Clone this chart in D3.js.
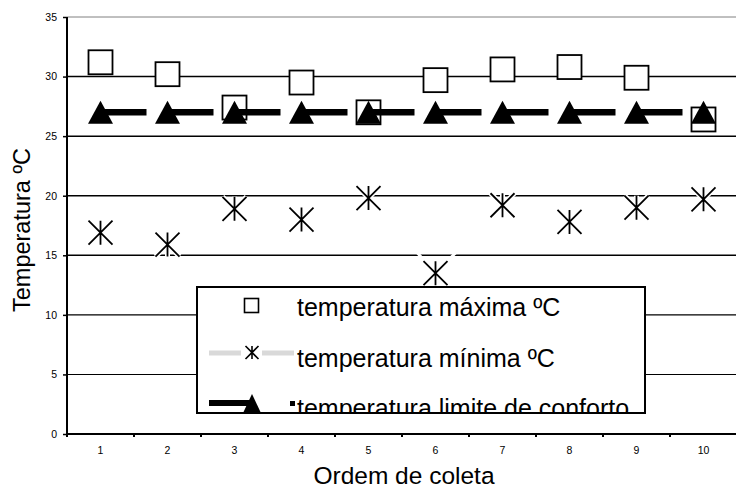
<!DOCTYPE html>
<html>
<head>
<meta charset="utf-8">
<script src="https://cdn.jsdelivr.net/npm/d3@7"></script>
<style>
  body { margin: 0; background: #fff; }
  svg { font-family: "Liberation Sans", Arial, sans-serif; }
</style>
</head>
<body>
<svg width="736" height="496"></svg>
<script>
// data
var coletas = [1, 2, 3, 4, 5, 6, 7, 8, 9, 10];
var tempMax = [31.2, 30.2, 27.4, 29.5, 27.0, 29.7, 30.6, 30.8, 29.9, 26.4];
var tempMin = [16.9, 15.9, 18.9, 18.0, 19.8, 13.5, 19.2, 17.8, 19.0, 19.7];
var tempConforto = [27, 27, 27, 27, 27, 27, 27, 27, 27, 27];
var yTicks = [0, 5, 10, 15, 20, 25, 30, 35];
var legendLabels = ["temperatura máxima ºC", "temperatura mínima ºC", "temperatura limite de conforto"];

var svg = d3.select("svg");

var x = d3.scaleBand().domain(coletas).range([67, 737]);
var y = d3.scaleLinear().domain([0, 35]).range([434, 17]);
function cx(d) { return x(d) + x.bandwidth() / 2; }

// gridlines
svg.append("g").selectAll("line")
    .data(yTicks.filter(function(d) { return d > 0; }))
    .enter().append("line")
    .attr("x1", 67).attr("x2", 736)
    .attr("y1", function(d) { return y(d); })
    .attr("y2", function(d) { return y(d); })
    .attr("stroke", function(d) { return d == 35 ? "#808080" : "#000"; })
    .attr("stroke-width", function(d) { return d == 35 ? 1 : (d <= 10 ? 1.1 : 1.5); });

// y axis
var yAxis = svg.append("g")
    .attr("transform", "translate(67,0)")
    .call(d3.axisLeft(y).tickValues(yTicks).tickSize(4).tickPadding(6));
yAxis.select(".domain").attr("stroke-width", 2).attr("d", "M0,17V434");
yAxis.selectAll(".tick line").attr("stroke-width", 1.5);
yAxis.selectAll("text").attr("font-size", 10.5).attr("fill", "#000")
    .attr("font-family", "Liberation Sans, Arial, sans-serif");

// x axis
var xAxis = svg.append("g")
    .attr("transform", "translate(0,434)")
    .call(d3.axisBottom(x).tickSize(0).tickPadding(13));
xAxis.select(".domain").attr("stroke-width", 2.2).attr("d", "M66,0H736");
xAxis.selectAll("text").attr("font-size", 10.5).attr("fill", "#000")
    .attr("font-family", "Liberation Sans, Arial, sans-serif");
xAxis.append("g").selectAll("line")
    .data(coletas)
    .enter().append("line")
    .attr("x1", function(d) { return x(d); })
    .attr("x2", function(d) { return x(d); })
    .attr("y1", 0).attr("y2", 3)
    .attr("stroke", "#000").attr("stroke-width", 2);

// axis titles
svg.append("text")
    .attr("transform", "translate(30,230) rotate(-90)")
    .attr("text-anchor", "middle")
    .attr("font-size", 23.5)
    .text("Temperatura ºC");
svg.append("text")
    .attr("x", 404).attr("y", 484)
    .attr("text-anchor", "middle")
    .attr("font-size", 24.5)
    .text("Ordem de coleta");

// white line of the minimum series (it cuts the gridlines it crosses)
var minLine = d3.line()
    .x(function(d, i) { return cx(coletas[i]); })
    .y(function(d) { return y(d); });
svg.append("path")
    .attr("d", minLine(tempMin))
    .attr("fill", "none")
    .attr("stroke", "#fff")
    .attr("stroke-width", 3);

// maximum: open squares
svg.append("g").selectAll("rect")
    .data(tempMax)
    .enter().append("rect")
    .attr("x", function(d, i) { return cx(coletas[i]) - 12; })
    .attr("y", function(d) { return y(d) - 12; })
    .attr("width", 24).attr("height", 24)
    .attr("fill", "#fff")
    .attr("stroke", "#000")
    .attr("stroke-width", 1.8);

// minimum: asterisks
function asterisk(r) {
    return "M0," + (-r) + "V" + r +
        "M" + (-r) + "," + (-r) + "L" + r + "," + r +
        "M" + (-r) + "," + r + "L" + r + "," + (-r);
}
var ast = svg.append("g").selectAll("g")
    .data(tempMin)
    .enter().append("g")
    .attr("transform", function(d, i) { return "translate(" + cx(coletas[i]) + "," + y(d) + ")"; });
ast.append("path").attr("d", asterisk(12)).attr("stroke", "#fff").attr("stroke-width", 5).attr("fill", "none");
ast.append("path").attr("d", asterisk(12)).attr("stroke", "#000").attr("stroke-width", 1.8).attr("fill", "none");

// limite de conforto: thick line pieces + triangles
var tri = "M0,-11.5L12.5,11.5L-12.5,11.5Z";
svg.append("g").selectAll("line")
    .data(tempConforto.slice(0, -1))
    .enter().append("line")
    .attr("x1", function(d, i) { return cx(coletas[i]); })
    .attr("x2", function(d, i) { return cx(coletas[i + 1]) - 21; })
    .attr("y1", function(d) { return y(d); })
    .attr("y2", function(d) { return y(d); })
    .attr("stroke", "#000")
    .attr("stroke-width", 6.5);
svg.append("g").selectAll("path")
    .data(tempConforto)
    .enter().append("path")
    .attr("d", tri)
    .attr("transform", function(d, i) { return "translate(" + cx(coletas[i]) + "," + y(d) + ")"; })
    .attr("fill", "#000");

// legend
svg.append("clipPath").attr("id", "legclip")
    .append("rect").attr("x", 197).attr("y", 287).attr("width", 448).attr("height", 125);
var leg = svg.append("g");
leg.append("rect")
    .attr("x", 197).attr("y", 287).attr("width", 448).attr("height", 126)
    .attr("fill", "#fff");
var legIn = leg.append("g").attr("clip-path", "url(#legclip)");

legIn.append("rect")
    .attr("x", 244.5).attr("y", 298.5).attr("width", 14).attr("height", 14)
    .attr("fill", "#fff").attr("stroke", "#000").attr("stroke-width", 1.6);

legIn.append("line").attr("x1", 209).attr("x2", 241).attr("y1", 353).attr("y2", 353)
    .attr("stroke", "#d9d9d9").attr("stroke-width", 5);
legIn.append("line").attr("x1", 262).attr("x2", 294).attr("y1", 353).attr("y2", 353)
    .attr("stroke", "#d9d9d9").attr("stroke-width", 5);
legIn.append("path").attr("d", asterisk(6.5))
    .attr("transform", "translate(252,352.5)")
    .attr("stroke", "#000").attr("stroke-width", 1.6).attr("fill", "none");

legIn.append("line").attr("x1", 209).attr("x2", 250).attr("y1", 403).attr("y2", 403)
    .attr("stroke", "#000").attr("stroke-width", 6);
legIn.append("path").attr("d", "M0,-9L8.5,9L-8.5,9Z")
    .attr("transform", "translate(252,403)").attr("fill", "#000");
legIn.append("rect").attr("x", 290).attr("y", 401).attr("width", 5).attr("height", 5).attr("fill", "#000");

legIn.selectAll("text.lab")
    .data(legendLabels)
    .enter().append("text")
    .attr("class", "lab")
    .attr("x", 297)
    .attr("y", function(d, i) { return 316 + i * 50.5; })
    .attr("font-size", 25)
    .text(function(d) { return d; });

leg.append("rect")
    .attr("x", 197).attr("y", 287).attr("width", 448).attr("height", 126)
    .attr("fill", "none").attr("stroke", "#000").attr("stroke-width", 2);
</script>
</body>
</html>
